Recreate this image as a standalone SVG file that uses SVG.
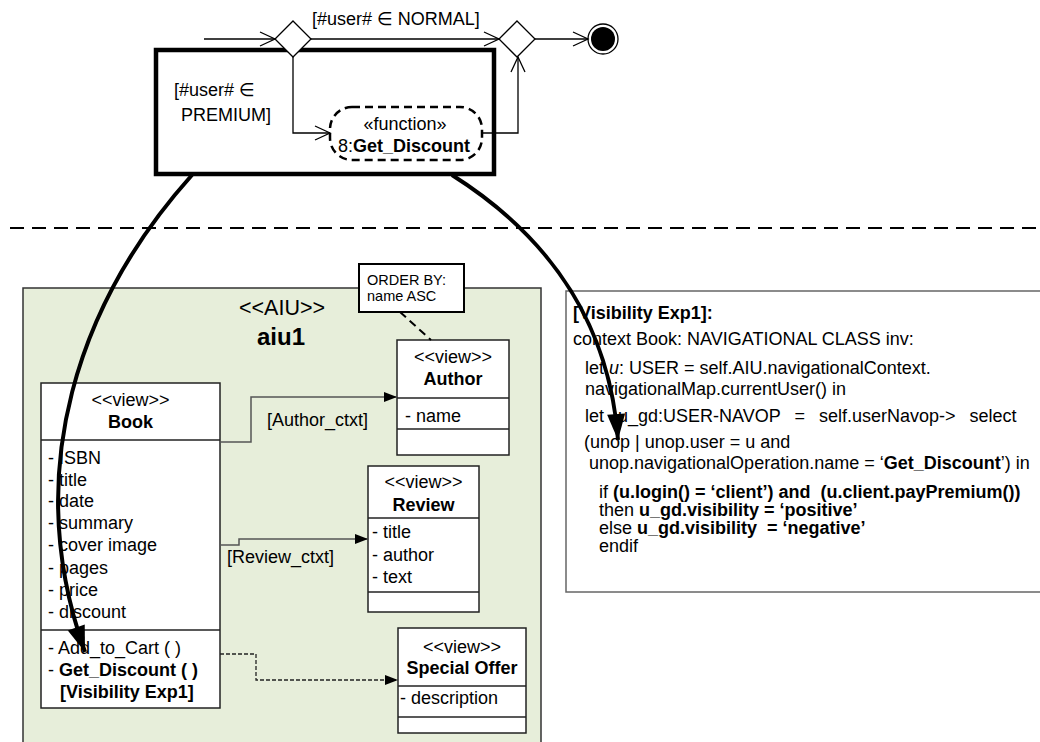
<svg xmlns="http://www.w3.org/2000/svg" width="1040" height="742" viewBox="0 0 1040 742">
<style>
text{font-family:"Liberation Sans",Arial,sans-serif;font-size:18px;fill:#000;white-space:pre}
.b{font-weight:bold}
.c{text-anchor:middle}
.v{font-size:18px}
.n{font-size:14.5px}
.aiu{font-size:21.5px}
.aiun{font-size:24px;font-weight:bold}
.sym{font-family:"DejaVu Sans",sans-serif}
.cls{fill:#fff;stroke:#222;stroke-width:1.5}
.sep{stroke:#222;stroke-width:1.5;fill:none}
.flow{fill:none;stroke:#000;stroke-width:1.3}
.ctx{fill:none;stroke:#555;stroke-width:1.5}
.big{fill:none;stroke:#000;stroke-width:4}
</style>
<defs>
<marker id="open" markerUnits="userSpaceOnUse" markerWidth="18" markerHeight="18" refX="15" refY="8" orient="auto" overflow="visible">
<path d="M0,1 L15,8 L0,15" fill="none" stroke="#000" stroke-width="1.3"/>
</marker>
<marker id="fill" markerUnits="userSpaceOnUse" markerWidth="14" markerHeight="10" refX="13" refY="5" orient="auto" overflow="visible">
<path d="M0,0 L13,5 L0,10 Z" fill="#000"/>
</marker>
<marker id="bigArrow" markerUnits="userSpaceOnUse" markerWidth="26" markerHeight="18" refX="26" refY="9" orient="auto" overflow="visible">
<path d="M0,0 L26,9 L0,18 Z" fill="#000"/>
</marker>
</defs>

<g id="separator"><line x1="10" y1="228" x2="1040" y2="228" stroke="#000" stroke-width="2" stroke-dasharray="14,8"/></g>

<g id="premium-region">
<rect x="156" y="50" width="338" height="124" fill="none" stroke="#000" stroke-width="4.5"/>
<text x="174" y="96">[#user# <tspan class="sym">∈</tspan></text>
<text x="181" y="121">PREMIUM]</text>
</g>

<g id="guard-normal"><text x="312" y="25">[#user# <tspan class="sym">∈</tspan> NORMAL]</text></g>

<g id="decision1"><path d="M293,21 L311,39 L293,57 L275,39 Z" fill="#fff" stroke="#000" stroke-width="1.3"/></g>
<g id="decision2"><path d="M517,21 L535,39 L517,57 L499,39 Z" fill="#fff" stroke="#000" stroke-width="1.3"/></g>
<g id="final-node"><circle cx="603" cy="39" r="15" fill="#fff" stroke="#000" stroke-width="1.3"/><circle cx="603" cy="39" r="12" fill="#000"/></g>

<g id="function-node">
<rect x="330" y="107" width="152" height="53" rx="22" ry="22" fill="#fff" stroke="#000" stroke-width="2.5" stroke-dasharray="8,5"/>
<text x="405" y="130" class="c">«function»</text>
<text x="338" y="152">8:<tspan class="b">Get_Discount</tspan></text>
</g>

<g id="aiu1">
<rect x="23" y="288" width="518" height="470" fill="#e7eeda" stroke="#333" stroke-width="1.5"/>
<text x="282" y="315" class="c aiu">&lt;&lt;AIU&gt;&gt;</text>
<text x="281" y="345" class="c aiun">aiu1</text>
</g>

<g id="note-order">
<rect x="359" y="264" width="105" height="48" fill="#fff" stroke="#000" stroke-width="2"/>
<text x="367" y="285" class="n">ORDER BY:</text>
<text x="367" y="301" class="n">name ASC</text>
</g>

<g id="book">
<rect x="41" y="383" width="179" height="325" class="cls"/>
<line x1="41" y1="440" x2="220" y2="440" class="sep"/>
<line x1="41" y1="630" x2="220" y2="630" class="sep"/>
<text x="130.5" y="406" class="c">&lt;&lt;view&gt;&gt;</text>
<text x="130.5" y="428" class="c b">Book</text>
<text x="48" y="464">- ISBN</text>
<text x="48" y="486">- title</text>
<text x="48" y="507">- date</text>
<text x="48" y="529">- summary</text>
<text x="48" y="551">- cover image</text>
<text x="48" y="574">- pages</text>
<text x="48" y="596">- price</text>
<text x="48" y="618">- discount</text>
<text x="48" y="654">- Add_to_Cart ( )</text>
<text x="48" y="676">- <tspan class="b">Get_Discount ( )</tspan></text>
<text x="60" y="698" class="b">[Visibility Exp1]</text>
</g>

<g id="author">
<rect x="397" y="340" width="112" height="115" class="cls"/>
<line x1="397" y1="398" x2="509" y2="398" class="sep"/>
<line x1="397" y1="429" x2="509" y2="429" class="sep"/>
<text x="453" y="363" class="c">&lt;&lt;view&gt;&gt;</text>
<text x="453" y="385" class="c b">Author</text>
<text x="405" y="422">- name</text>
</g>

<g id="review">
<rect x="368" y="466" width="111" height="146" class="cls"/>
<line x1="368" y1="518" x2="479" y2="518" class="sep"/>
<line x1="368" y1="592" x2="479" y2="592" class="sep"/>
<text x="423.5" y="488" class="c">&lt;&lt;view&gt;&gt;</text>
<text x="423.5" y="511" class="c b">Review</text>
<text x="372" y="538">- title</text>
<text x="372" y="561">- author</text>
<text x="372" y="583">- text</text>
</g>

<g id="special-offer">
<rect x="398" y="628" width="128" height="105" class="cls"/>
<line x1="398" y1="686" x2="526" y2="686" class="sep"/>
<line x1="398" y1="717" x2="526" y2="717" class="sep"/>
<text x="462" y="653" class="c">&lt;&lt;view&gt;&gt;</text>
<text x="462" y="674" class="c b">Special Offer</text>
<text x="400" y="704">- description</text>
</g>

<g id="visibility-exp1">
<rect x="566" y="291" width="480" height="301" fill="#fff" stroke="#666" stroke-width="1.5"/>
<text x="573" y="319" class="v b">[Visibility Exp1]:</text>
<text x="573" y="345" class="v">context Book: NAVIGATIONAL CLASS inv:</text>
<text x="585" y="374" class="v">let <tspan font-style="italic">u</tspan>: USER = self.AIU.navigationalContext.</text>
<text x="585" y="395" class="v">navigationalMap.currentUser() in</text>
<text x="585" y="422" class="v" word-spacing="9">let u_gd:USER-NAVOP = self.userNavop-&gt; select</text>
<text x="584" y="448" class="v">(unop | unop.user = u and</text>
<text x="589" y="469" class="v">unop.navigationalOperation.name = ‘<tspan class="b">Get_Discount</tspan>’) in</text>
<text x="599" y="498" class="v">if <tspan class="b">(u.login() = ‘client’) and  (u.client.payPremium())</tspan></text>
<text x="599" y="516" class="v">then <tspan class="b">u_gd.visibility = ‘positive’</tspan></text>
<text x="599" y="534" class="v">else <tspan class="b">u_gd.visibility  = ‘negative’</tspan></text>
<text x="599" y="552" class="v">endif</text>
</g>

<g id="connectors">
<path d="M204,39 L275,39" class="flow" marker-end="url(#open)"/>
<path d="M311,39 L499,39" class="flow" marker-end="url(#open)"/>
<path d="M535,39 L588,39" class="flow" marker-end="url(#open)"/>
<path d="M293,57 L293,133 L330,133" class="flow" marker-end="url(#open)"/>
<path d="M482,133 L518,133 L518,57" class="flow" marker-end="url(#open)"/>
<path d="M220,442 L251,442 L251,397 L397,397" class="ctx" marker-end="url(#fill)"/>
<text x="267" y="426">[Author_ctxt]</text>
<path d="M220,545 L239,545 L239,539 L368,539" class="ctx" marker-end="url(#fill)"/>
<text x="227" y="563">[Review_ctxt]</text>
<path d="M220,654 L256,654 L256,680 L398,680" fill="none" stroke="#222" stroke-width="1.3" stroke-dasharray="4,2" marker-end="url(#fill)"/>
<path d="M400,312 L431,340" fill="none" stroke="#000" stroke-width="2" stroke-dasharray="8,5"/>
<path d="M192,175 C80,300 20,470 85,652" class="big" marker-end="url(#bigArrow)"/>
<path d="M452,175 C555,240 610,330 618,440" class="big" marker-end="url(#bigArrow)"/>
</g>
</svg>
